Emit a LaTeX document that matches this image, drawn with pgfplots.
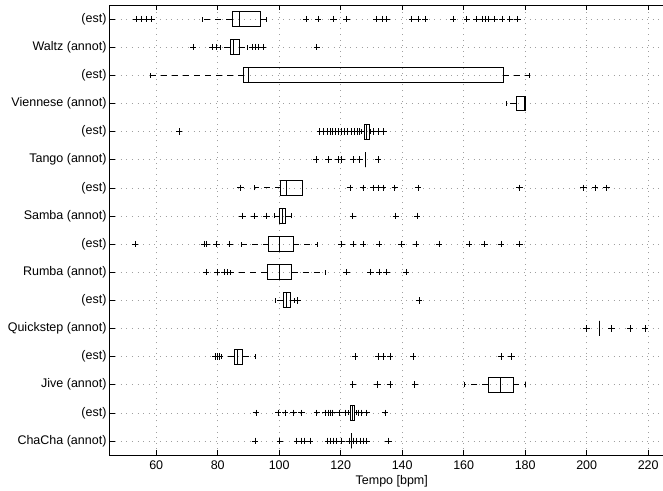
\documentclass[border=0pt]{standalone}
\usepackage{fontspec}
\setmainfont{Liberation Sans}
\usepackage{pgfplots}
\pgfplotsset{compat=1.18}
\usepgfplotslibrary{statistics}
\begin{document}
\begin{tikzpicture}
\begin{axis}[
  scale only axis,
  width=564.5pt, height=450pt,
  xmin=44.8, xmax=228.4, ymin=0.5, ymax=16.5,
  xtick={60,80,...,220},
  ytick={1,...,16},
  yticklabels={ChaCha (annot),(est),Jive (annot),(est),Quickstep (annot),(est),Rumba (annot),(est),Samba (annot),(est),Tango (annot),(est),Viennese (annot),(est),Waltz (annot),(est)},
  xmajorgrids, ymajorgrids,
  grid style={gray!75, line width=0.6pt, dash pattern=on 1pt off 4.6pt},
  tick align=inside,
  major tick length=5pt,
  tick style={black, line width=0.6pt},
  axis line style={black, line width=0.9pt},
  /pgf/number format/assume math mode=true,
  tick label style={font=\fontsize{12.5}{14}\selectfont},
  xticklabel style={yshift=-2.5pt},
  yticklabel style={xshift=0.5pt},
  xlabel={Tempo [bpm]},
  xlabel style={font=\fontsize{12.5}{14}\selectfont, at={(axis description cs:0.5,0)}, anchor=center, yshift=-26.7pt},
  boxplot/draw direction=x,
  boxplot/box extend=0.53,
  boxplot/whisker extend=0.18,
  boxplot/every box/.style={draw=black, line width=0.8pt},
  boxplot/every whisker/.style={black, line width=0.75pt, dash pattern=on 6pt off 5pt},
  boxplot/every median/.style={black, line width=0.8pt},
  every axis plot/.append style={black, mark=+, mark size=3.2pt, mark options={solid, line width=0.7pt}},
]
% Row 16: Waltz (est)
\addplot[boxplot prepared={draw position=16, lower whisker=75.1, lower quartile=84.7, median=86.9, upper quartile=94.0, upper whisker=95.7}]
 table[row sep=\\, y index=0] {data\\ 53.6\\ 55.3\\ 56.9\\ 58.5\\ 108.7\\ 112.7\\ 117.6\\ 121.9\\ 131.7\\ 133.4\\ 135.0\\ 143.1\\ 145.2\\ 147.4\\ 156.6\\ 161.0\\ 164.0\\ 166.0\\ 167.0\\ 168.0\\ 170.0\\ 172.5\\ 175.0\\ 177.5\\};
% Row 15: Waltz (annot)
\addplot[boxplot prepared={draw position=15, lower whisker=80.9, lower quartile=84.0, median=85.0, upper quartile=87.0, upper whisker=89.8}]
 table[row sep=\\, y index=0] {data\\ 72.0\\ 78.3\\ 79.6\\ 91.2\\ 92.2\\ 93.3\\ 94.8\\ 112.2\\};
% Row 14: Viennese (est)
\addplot[boxplot prepared={draw position=14, lower whisker=58.0, lower quartile=88.4, median=89.9, upper quartile=172.9, upper whisker=181.2}]
 coordinates {};
% Row 13: Viennese (annot)
\addplot[boxplot prepared={draw position=13, lower whisker=174.0, lower quartile=177.0, median=179.8, upper quartile=180.0, upper whisker=180.0}]
 coordinates {};
% Row 12: Tango (est)
\addplot[boxplot prepared={draw position=12, lower whisker=126.8, lower quartile=127.6, median=128.4, upper quartile=129.3, upper whisker=129.8}]
 table[row sep=\\, y index=0] {data\\ 67.5\\ 113.2\\ 114.3\\ 115.5\\ 116.5\\ 117.3\\ 118.2\\ 119.2\\ 120.2\\ 121.2\\ 122.2\\ 123.3\\ 124.3\\ 125.3\\ 126.2\\ 130.6\\ 132.3\\ 134.0\\};
% Row 11: Tango (annot)
\addplot[boxplot prepared={draw position=11, lower whisker=128.1, lower quartile=128.1, median=128.1, upper quartile=128.1, upper whisker=128.1}]
 table[row sep=\\, y index=0] {data\\ 112.0\\ 116.0\\ 119.2\\ 120.3\\ 124.0\\ 126.2\\ 132.2\\};
% Row 10: Samba (est)
\addplot[boxplot prepared={draw position=10, lower whisker=91.8, lower quartile=100.5, median=102.4, upper quartile=107.6, upper whisker=107.6}]
 table[row sep=\\, y index=0] {data\\ 87.4\\ 123.0\\ 127.3\\ 130.6\\ 132.2\\ 133.8\\ 137.6\\ 145.2\\ 178.1\\ 198.9\\ 202.7\\ 206.5\\};
% Row 9: Samba (annot)
\addplot[boxplot prepared={draw position=9, lower whisker=98.3, lower quartile=100.0, median=101.0, upper quartile=102.1, upper whisker=104.0}]
 table[row sep=\\, y index=0] {data\\ 88.0\\ 91.9\\ 95.9\\ 123.9\\ 137.9\\ 144.9\\};
% Row 8: Rumba (est)
\addplot[boxplot prepared={draw position=8, lower whisker=87.8, lower quartile=96.6, median=100.2, upper quartile=104.6, upper whisker=112.3}]
 table[row sep=\\, y index=0] {data\\ 53.1\\ 75.5\\ 76.4\\ 79.6\\ 83.9\\ 120.3\\ 124.0\\ 127.3\\ 132.5\\ 139.8\\ 144.5\\ 152.0\\ 161.8\\ 166.7\\ 172.1\\ 178.1\\};
% Row 7: Rumba (annot)
\addplot[boxplot prepared={draw position=7, lower whisker=84.0, lower quartile=96.0, median=100.0, upper quartile=104.0, upper whisker=115.1}]
 table[row sep=\\, y index=0] {data\\ 76.2\\ 79.8\\ 82.2\\ 83.0\\ 121.9\\ 129.7\\ 132.5\\ 134.9\\ 141.2\\};
% Row 6: Quickstep (est)
\addplot[boxplot prepared={draw position=6, lower whisker=98.6, lower quartile=101.3, median=102.4, upper quartile=103.5, upper whisker=104.8}]
 table[row sep=\\, y index=0] {data\\ 106.0\\ 145.5\\};
% Row 5: Quickstep (annot)
\addplot[boxplot prepared={draw position=5, lower whisker=204.0, lower quartile=204.0, median=204.0, upper quartile=204.0, upper whisker=204.0}]
 table[row sep=\\, y index=0] {data\\ 200.0\\ 208.1\\ 214.1\\ 219.0\\};
% Row 4: Jive (est)
\addplot[boxplot prepared={draw position=4, lower whisker=81.3, lower quartile=85.4, median=86.3, upper quartile=88.1, upper whisker=92.1}]
 table[row sep=\\, y index=0] {data\\ 79.3\\ 79.9\\ 80.5\\ 124.6\\ 132.2\\ 133.8\\ 136.0\\ 143.6\\ 172.1\\ 175.6\\};
% Row 3: Jive (annot)
\addplot[boxplot prepared={draw position=3, lower whisker=160.2, lower quartile=168.0, median=172.0, upper quartile=176.1, upper whisker=179.9}]
 table[row sep=\\, y index=0] {data\\ 123.9\\ 132.0\\ 136.0\\ 144.1\\};
% Row 2: ChaCha (est)
\addplot[boxplot prepared={draw position=2, lower whisker=122.6, lower quartile=123.2, median=123.9, upper quartile=124.6, upper whisker=125.0}]
 table[row sep=\\, y index=0] {data\\ 92.4\\ 99.7\\ 101.9\\ 104.6\\ 107.3\\ 112.2\\ 114.9\\ 115.9\\ 116.6\\ 117.4\\ 119.6\\ 121.4\\ 125.8\\ 126.6\\ 128.4\\ 134.4\\};
% Row 1: ChaCha (annot)
\addplot[boxplot prepared={draw position=1, lower whisker=123.5, lower quartile=123.5, median=123.5, upper quartile=123.5, upper whisker=123.5}]
 table[row sep=\\, y index=0] {data\\ 92.1\\ 100.2\\ 105.7\\ 107.3\\ 108.2\\ 110.0\\ 115.8\\ 116.6\\ 117.5\\ 118.5\\ 120.3\\ 122.8\\ 124.2\\ 125.2\\ 126.3\\ 127.3\\ 128.4\\ 135.5\\};
\coordinate (tl) at (rel axis cs:0,1);
\coordinate (bl) at (rel axis cs:0,0);
\end{axis}
\pgfresetboundingbox
\path[use as bounding box] ([shift={(-109.5pt,-35pt)}]bl) rectangle ([shift={(553.5pt,5pt)}]tl);
\end{tikzpicture}
\end{document}
